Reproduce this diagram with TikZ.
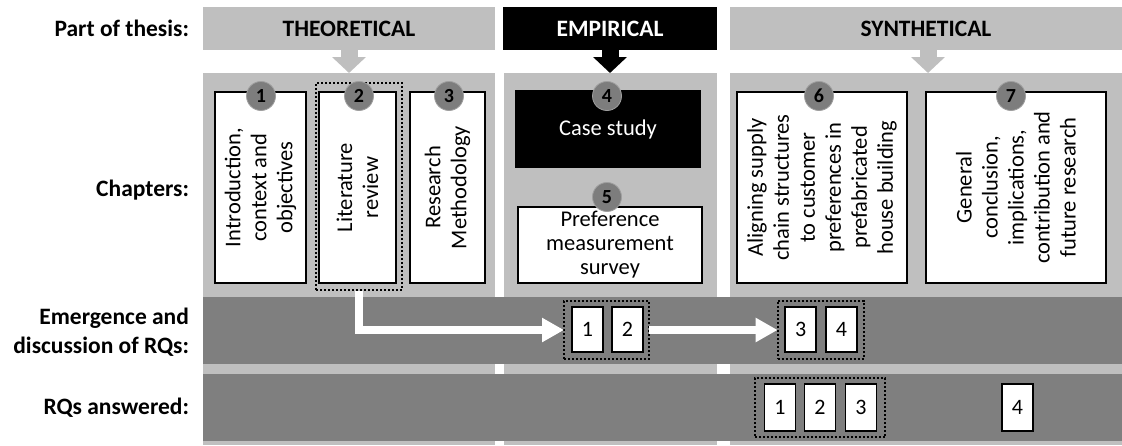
\documentclass[tikz,border=0pt]{standalone}
\usepackage{fontspec}
\setmainfont{Carlito}
\usetikzlibrary{arrows.meta}
\definecolor{lgray}{RGB}{191,191,191}
\definecolor{dgray}{RGB}{127,127,127}
\definecolor{cgray}{RGB}{125,125,125}
\begin{document}
\begin{tikzpicture}[x=1pt,y=-1pt,
  every node/.style={inner sep=0pt, outer sep=0pt},
  hdr/.style={fill=lgray, font=\fontsize{23.5}{28}\selectfont\bfseries},
  panel/.style={fill=lgray},
  band/.style={fill=dgray},
  chap/.style={draw=black, line width=1.6pt, fill=white},
  vtext/.style={rotate=90, align=center, font=\fontsize{22.5}{26}\selectfont},
  num/.style={circle, fill=cgray, draw=gray!75, line width=0.8pt, minimum size=29pt, font=\fontsize{20}{22}\selectfont\bfseries},
  rowlab/.style={anchor=east, align=right, font=\fontsize{23.5}{29}\selectfont\bfseries},
  rq/.style={draw=black, line width=1.6pt, fill=white, minimum width=31pt, font=\fontsize{22}{24}\selectfont},
  grp/.style={draw=black, line width=1.8pt, dash pattern=on 2pt off 2pt},
  blockarrow/.style={line width=17pt, -{Triangle[width=33pt,length=16pt]}},
  whitearrow/.style={draw=white, line width=8pt, -{Triangle[width=23pt,length=22pt]}}
]
\useasboundingbox (0,0) rectangle (1122,445);

% header bars
\node[hdr, minimum width=292pt, minimum height=43pt] (theo) at (349,28.5) {THEORETICAL};
\node[hdr, fill=black, text=white, minimum width=214pt, minimum height=43pt] (emp) at (610,28.5) {EMPIRICAL};
\node[hdr, minimum width=392pt, minimum height=43pt] (syn) at (926,28.5) {SYNTHETICAL};

% panels
\node[panel, minimum width=292pt, minimum height=372pt] (theoP) at (349,259) {};
\node[panel, minimum width=213pt, minimum height=372pt] (empP) at (610.5,259) {};
\node[panel, minimum width=392pt, minimum height=372pt] (synP) at (926,259) {};

% header arrows
\coordinate (theoT) at (349,73);
\coordinate (empT) at (610,73);
\coordinate (synT) at (928,73);
\draw[blockarrow, lgray] (theo.south) -- (theoT);
\draw[blockarrow, black] (emp.south) -- (empT);
\draw[blockarrow, lgray] ([xshift=2pt]syn.south) -- (synT);

% dark bands
\node[band, minimum width=919pt, minimum height=67pt] (band1) at (662.5,330.5) {};
\node[band, minimum width=919pt, minimum height=67pt] (band2) at (662.5,407.5) {};

% row labels
\node[rowlab] (lpart) at (189,28) {Part of thesis:};
\node[rowlab] (lchap) at (189,190) {Chapters:};
\node[rowlab] (lemer) at (189,332) {Emergence and\\discussion of RQs:};
\node[rowlab] (lans) at (189,408) {RQs answered:};

% chapter boxes
\node[chap, minimum width=91pt, minimum height=191pt] (c1) at (260.5,187.5) {};
\node[vtext] at (c1) {Introduction,\\context and\\objectives};
\node[grp, minimum width=86pt, minimum height=207pt] (lit) at (359,186.5) {};
\node[chap, minimum width=77pt, minimum height=191pt] (c2) at (357.5,187.5) {};
\node[vtext] at (c2) {Literature\\review};
\node[chap, minimum width=75pt, minimum height=191pt] (c3) at (447.5,187.5) {};
\node[vtext] at (c3) {Research\\Methodology};
\node[chap, fill=black, minimum width=184pt, minimum height=76pt, text=white, font=\fontsize{22.5}{26}\selectfont] (c4) at (608,129) {Case study};
\node[chap, minimum width=184pt, minimum height=76pt, align=center, font=\fontsize{22.5}{24}\selectfont] (c5) at (610,245) {Preference\\measurement\\survey};
\node[chap, minimum width=170pt, minimum height=191pt] (c6) at (822,187.5) {};
\node[vtext] at (c6) {Aligning supply\\chain structures\\to customer\\preferences in\\prefabricated\\house building};
\node[chap, line width=2.6pt, minimum width=180pt, minimum height=191pt] (c7) at (1016,187.5) {};
\node[vtext] at (c7) {General\\conclusion,\\implications,\\contribution and\\future research};

% chapter numbers
\node[num] (n1) at (261,96) {1};
\node[num] (n2) at (359,96) {2};
\node[num] (n3) at (449,96) {3};
\node[num] (n4) at (607,96) {4};
\node[num] (n5) at (607,197) {5};
\node[num] (n6) at (819,96) {6};
\node[num] (n7) at (1011,96) {7};

% RQ emergence
\node[grp, minimum width=85pt, minimum height=58pt] (g12) at (606.5,330) {};
\node[rq, minimum height=45pt] (e1) at (587.5,329.5) {1};
\node[rq, minimum height=45pt] (e2) at (627.5,329.5) {2};
\node[grp, minimum width=86.4pt, minimum height=58pt] (g34) at (820.8,330) {};
\node[rq, minimum height=45pt] (e3) at (800.7,329.5) {3};
\node[rq, minimum height=45pt] (e4) at (841.5,329.5) {4};

% RQ answered
\node[grp, minimum width=130.5pt, minimum height=59pt] (g123) at (820,407.5) {};
\node[rq, minimum height=47pt] (a1) at (780,407.5) {1};
\node[rq, minimum height=47pt] (a2) at (820,407.5) {2};
\node[rq, minimum height=47pt] (a3) at (861,407.5) {3};
\node[rq, minimum height=47pt] (a4) at (1017.5,407.5) {4};

% white arrows
\draw[whitearrow] ([yshift=-1pt]lit.south) |- (g12.west);
\draw[whitearrow] (g12.east) -- (g34.west);
\end{tikzpicture}
\end{document}
